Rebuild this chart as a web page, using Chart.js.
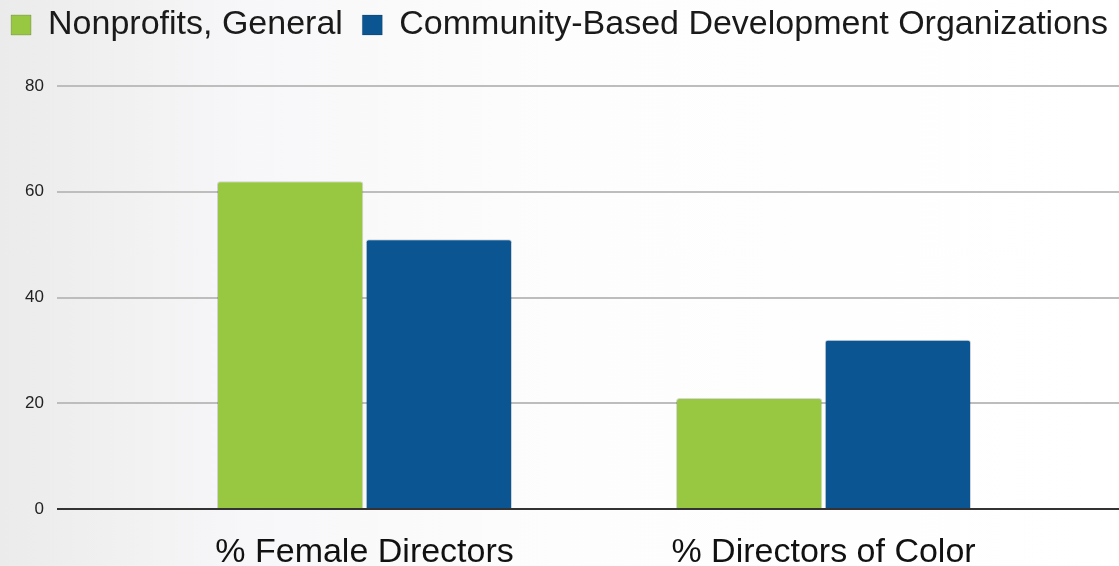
<!DOCTYPE html>
<html>
<head>
<meta charset="utf-8">
<script src="https://cdn.jsdelivr.net/npm/chart.js@4"></script>
<style>
  html, body { margin: 0; padding: 0; }
  body {
    width: 1119px; height: 566px; overflow: hidden;
    background: linear-gradient(to right, #ebebeb 0%, #f7f7f9 22%, #fdfdfd 50%, #ffffff 100%);
  }
  #wrap { position: relative; width: 1119px; height: 566px; }
</style>
</head>
<body>
<div id="wrap"><canvas id="chart"></canvas></div>
<script>
// Data
const categories = ['% Female Directors', '% Directors of Color'];
const seriesNames = ['Nonprofits, General ', 'Community-Based Development Organizations'];
const nonprofitsGeneral = [62, 21];
const communityBased = [51, 32];
const yTicks = [0, 20, 40, 60, 80];

const colors = ['#98c741', '#0a5592'];

// push the plot down a bit below the legend
const legendGap = {
    id: 'legendGap',
    beforeInit(chart) {
        const fit = chart.legend.fit;
        chart.legend.fit = function () {
            fit.bind(chart.legend)();
            this.height += 34;
        };
    }
};

const ctx = document.getElementById('chart').getContext('2d');
const chart = new Chart(ctx, {
    type: 'bar',
    data: {
        labels: categories,
        datasets: [nonprofitsGeneral, communityBased].map((vals, i) => ({
            label: seriesNames[i],
            data: vals,
            backgroundColor: colors[i],
            borderColor: 'rgba(0,0,0,0.15)',
            borderWidth: 1,
            borderRadius: { topLeft: 3, topRight: 3 },
            categoryPercentage: 0.648,
            barPercentage: 0.984
        }))
    },
    options: {
        responsive: true,
        maintainAspectRatio: false,
        animation: false,
        layout: { padding: { left: 0, right: 0, top: -2, bottom: 0 } },
        plugins: {
            legend: {
                position: 'top',
                labels: {
                    boxWidth: 20,
                    boxHeight: 20,
                    padding: 10,
                    color: '#1a1a1a',
                    font: { family: 'Liberation Sans, Arial, sans-serif', size: 34 }
                }
            },
            tooltip: { enabled: false }
        },
        scales: {
            x: {
                afterBuildTicks: (scale) => {
                    // categories are not spread over the full width in the original
                    scale._startValue = -0.670;
                    scale._valueRange = 2.3137;
                },
                afterFit: (scale) => { scale.height = 57; },
                grid: { display: false, drawTicks: false },
                border: { display: false },
                ticks: {
                    color: '#111',
                    padding: 23,
                    font: { family: 'Liberation Sans, Arial, sans-serif', size: 34 }
                }
            },
            y: {
                min: 0,
                max: 80,
                afterBuildTicks: (scale) => {
                    scale.ticks = yTicks.map(v => ({ value: v }));
                },
                afterFit: (scale) => { scale.width = 57; },
                grid: {
                    drawTicks: false,
                    lineWidth: 2,
                    color: (c) => c.tick && c.tick.value === 0 ? '#333333' : '#bdbdbd'
                },
                border: { display: false },
                ticks: {
                    color: '#222',
                    padding: 13,
                    font: { family: 'Liberation Sans, Arial, sans-serif', size: 17 }
                }
            }
        }
    },
    plugins: [legendGap]
});
</script>
</body>
</html>
